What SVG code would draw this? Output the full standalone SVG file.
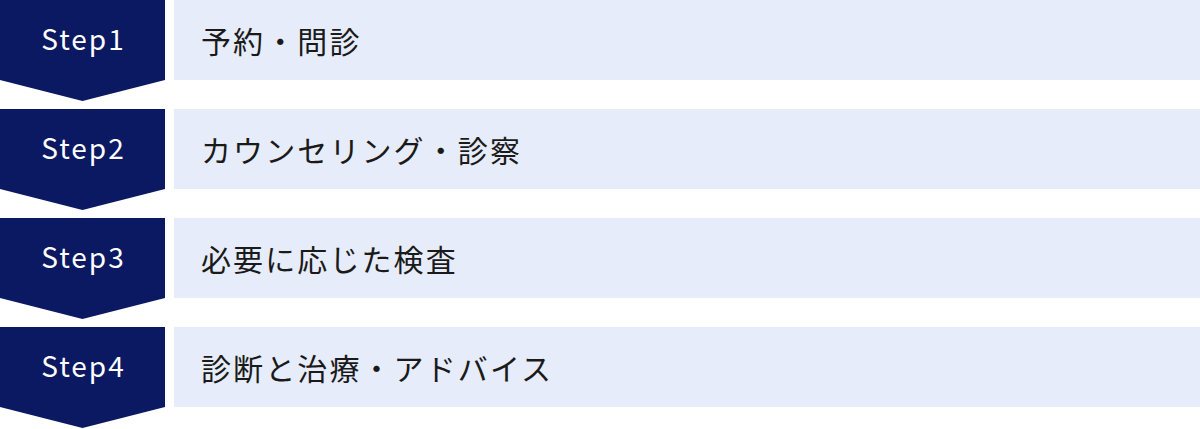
<svg xmlns="http://www.w3.org/2000/svg" width="1200" height="429" viewBox="0 0 1200 429">
<style>
.badge{fill:#0b1862}
.panel{fill:#e6ecf9}
.step{font-family:"Noto Sans CJK JP","Noto Sans",sans-serif;font-size:28px;fill:#ffffff;text-anchor:middle;letter-spacing:2px}
.label{font-family:"Noto Sans CJK JP","Noto Sans",sans-serif;font-size:30px;fill:#1a1a1a;letter-spacing:2.1px}
</style>
<rect width="1200" height="429" fill="#ffffff"/>
<g id="step1">
<polygon class="badge" points="0,0 165,0 165,80 82.5,101 0,80"/>
<text class="step" x="83.5" y="50">Step1</text>
<rect class="panel" x="174" y="0" width="1026" height="80"/>
<text class="label" x="201" y="40" dominant-baseline="central">予約・問診</text>
</g>
<g id="step2">
<polygon class="badge" points="0,109 165,109 165,189 82.5,210 0,189"/>
<text class="step" x="83.5" y="159">Step2</text>
<rect class="panel" x="174" y="109" width="1026" height="80"/>
<text class="label" x="201" y="149" dominant-baseline="central">カウンセリング・診察</text>
</g>
<g id="step3">
<polygon class="badge" points="0,218 165,218 165,298 82.5,319 0,298"/>
<text class="step" x="83.5" y="268">Step3</text>
<rect class="panel" x="174" y="218" width="1026" height="80"/>
<text class="label" x="201" y="258" dominant-baseline="central">必要に応じた検査</text>
</g>
<g id="step4">
<polygon class="badge" points="0,327 165,327 165,407 82.5,428 0,407"/>
<text class="step" x="83.5" y="377">Step4</text>
<rect class="panel" x="174" y="327" width="1026" height="80"/>
<text class="label" x="201" y="367" dominant-baseline="central">診断と治療・アドバイス</text>
</g>
<g id="connectors"></g>
</svg>
